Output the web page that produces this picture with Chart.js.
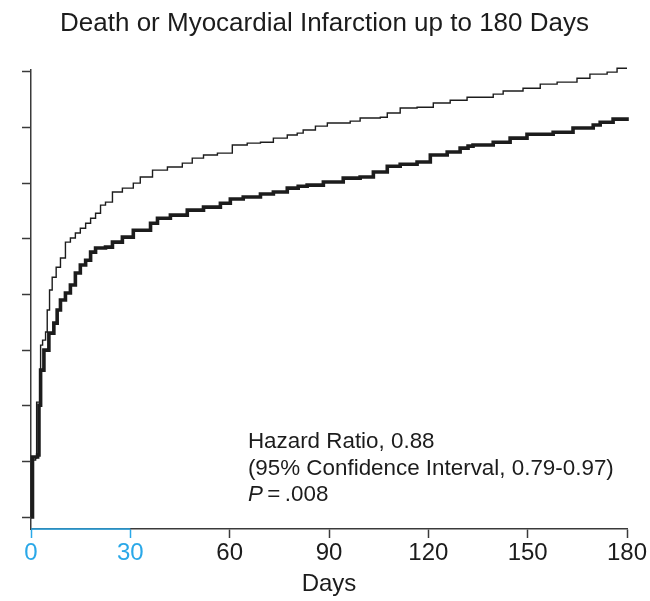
<!DOCTYPE html>
<html>
<head>
<meta charset="utf-8">
<script src="https://cdn.jsdelivr.net/npm/chart.js@4.4.1/dist/chart.umd.min.js"></script>
<style>
  html, body { margin: 0; padding: 0; background: #fff; }
  #wrap { width: 650px; height: 601px; }
</style>
</head>
<body>
<div id="wrap"><canvas id="km-chart"></canvas></div>
<script>
// DATA (units = % on an unlabeled axis)
const xTicks = [0, 30, 60, 90, 120, 150, 180];
const yTicks = [0, 2, 4, 6, 8, 10, 12, 14, 16];

// upper, thin curve
const upperDays = [
  0, 0.15, 1.4, 1.7, 2.6, 2.9, 3.5, 4.4, 4.9, 5.6, 6.4, 7.6, 8.9, 10.4, 11.9,
  13.4, 14.9, 16.5, 18.0, 19.5, 21.0, 22.5, 24.6, 27.6, 30.9, 33.0, 36.7,
  41.2, 45.7, 48.7, 52.1, 56.3, 60.8, 65.3, 69.3, 73.2, 77.4, 80.4, 82.2,
  85.9, 89.5, 96.4, 99.4, 105.5, 107.6, 111.5, 116.6, 121.5, 126.6, 131.7,
  139.6, 142.6, 148.6, 153.8, 158.9, 164.9, 168.8, 174.0, 177.0, 180,
];
const upperRisk = [
  0, 2.05, 2.12, 4.13, 4.13, 6.18, 6.36, 6.65, 7.44, 8.16, 8.62, 8.98, 9.31,
  9.88, 10.03, 10.21, 10.38, 10.56, 10.74, 10.92, 11.21, 11.32, 11.68, 11.82,
  12.0, 12.22, 12.47, 12.58, 12.72, 12.9, 13.01, 13.08, 13.37, 13.44, 13.47,
  13.62, 13.73, 13.8, 13.91, 14.05, 14.16, 14.23, 14.34, 14.37, 14.52, 14.7,
  14.73, 14.88, 14.98, 15.09, 15.2, 15.31, 15.41, 15.56, 15.63, 15.77, 15.92,
  15.99, 16.13, 16.13,
];

// lower, thick curve
const lowerDays = [
  0, 0.45, 2.0, 2.4, 2.9, 3.9, 5.4, 6.9, 7.9, 8.9, 10.4, 11.9, 13.4, 14.9,
  16.5, 18.0, 19.5, 22.5, 24.6, 27.6, 30.9, 36.1, 38.2, 42.1, 47.2, 52.1,
  57.2, 60.2, 64.1, 69.3, 73.2, 77.4, 80.7, 83.4, 88.3, 94.3, 99.4, 103.4,
  107.6, 111.5, 116.6, 120.6, 125.7, 129.6, 132.0, 133.5, 139.6, 144.7,
  149.8, 157.7, 163.7, 169.8, 171.9, 175.8, 180,
];
const lowerRisk = [
  0, 2.16, 2.23, 4.02, 5.28, 6.0, 6.61, 6.97, 7.44, 7.8, 8.05, 8.34, 8.77,
  9.06, 9.23, 9.52, 9.67, 9.7, 9.88, 10.06, 10.31, 10.56, 10.74, 10.85,
  11.03, 11.14, 11.28, 11.43, 11.5, 11.61, 11.68, 11.82, 11.89, 11.93, 12.04,
  12.18, 12.22, 12.4, 12.61, 12.68, 12.76, 13.01, 13.12, 13.26, 13.33, 13.37,
  13.47, 13.62, 13.76, 13.83, 13.98, 14.09, 14.19, 14.3, 14.37,
];

const noteLines = [
  "Hazard Ratio, 0.88",
  "(95% Confidence Interval, 0.79-0.97)",
];
const noteP = ".008";

const FONT = "'Liberation Sans', Arial, Helvetica, sans-serif";
const INK = "#1c1c1c";
const AXIS = "#3a3a3a";
const CYAN = "#2aa8e8";

function toPoints(xs, ys) {
  return xs.map((x, i) => ({ x: x, y: ys[i] }));
}

function inFirstMonth(ctx) {
  return ctx.tick && ctx.tick.value <= 30;
}

// cyan piece of the x axis + the text block
const extras = {
  id: "extras",
  afterDraw(chart) {
    const c = chart.ctx;
    const x = chart.scales.x;
    const y = chart.scales.y;
    c.save();
    c.strokeStyle = CYAN;
    c.lineWidth = 1.5;
    c.beginPath();
    c.moveTo(x.getPixelForValue(0), x.top);
    c.lineTo(x.getPixelForValue(30), x.top);
    c.stroke();

    const left = x.getPixelForValue(65.5);
    const top = y.getPixelForValue(2.7);
    c.fillStyle = INK;
    c.textBaseline = "middle";
    c.font = "22.4px " + FONT;
    noteLines.forEach((t, i) => c.fillText(t, left, top + i * 26.5));
    const py = top + 2 * 26.5;
    c.font = "italic 22.4px " + FONT;
    c.fillText("P", left, py);
    const w = c.measureText("P").width;
    c.font = "22.4px " + FONT;
    c.fillText("\u2009=\u2009" + noteP, left + w, py);
    c.restore();
  },
};

const kmChart = document.getElementById("km-chart");

new Chart(kmChart, {
  type: "line",
  data: {
    datasets: [
      {
        label: "lower",
        data: toPoints(lowerDays, lowerRisk),
        borderColor: INK,
        borderWidth: 3.6,
        stepped: "before",
        pointRadius: 0,
        fill: false,
        clip: false,
      },
      {
        label: "upper",
        data: toPoints(upperDays, upperRisk),
        borderColor: INK,
        borderWidth: 1.4,
        stepped: "before",
        pointRadius: 0,
        fill: false,
        clip: false,
      },
    ],
  },
  options: {
    responsive: true,
    maintainAspectRatio: false,
    animation: false,
    layout: {
      padding: { left: 22, right: 23, top: 0, bottom: 0 },
    },
    plugins: {
      legend: { display: false },
      tooltip: { enabled: false },
      title: {
        display: true,
        text: "Death or Myocardial Infarction up to 180 Days",
        color: INK,
        font: { family: FONT, size: 26, weight: "normal" },
        padding: { top: 8, bottom: 31 },
      },
    },
    scales: {
      x: {
        type: "linear",
        min: 0,
        max: 180,
        afterFit(scale) {
          scale.height = 72;
        },
        afterBuildTicks(scale) {
          scale.ticks = xTicks.map((v) => ({ value: v }));
        },
        border: { color: AXIS, width: 1.5 },
        grid: {
          drawOnChartArea: false,
          drawTicks: true,
          tickLength: 9,
          tickWidth: 1.5,
          color: (ctx) => (inFirstMonth(ctx) ? CYAN : AXIS),
        },
        ticks: {
          color: (ctx) => (inFirstMonth(ctx) ? CYAN : INK),
          font: { family: FONT, size: 24 },
          padding: 1,
          maxRotation: 0,
          autoSkip: false,
        },
        title: {
          display: true,
          text: "Days",
          color: INK,
          font: { family: FONT, size: 24 },
          padding: { top: 0, bottom: 2 },
        },
      },
      y: {
        type: "linear",
        min: -0.43,
        max: 16.06,
        afterBuildTicks(scale) {
          scale.ticks = yTicks.map((v) => ({ value: v }));
        },
        border: { color: AXIS, width: 1.5 },
        grid: {
          drawOnChartArea: false,
          drawTicks: true,
          tickLength: 9,
          tickWidth: 1.5,
          color: AXIS,
        },
        ticks: { display: false },
      },
    },
  },
  plugins: [extras],
});
</script>
</body>
</html>
